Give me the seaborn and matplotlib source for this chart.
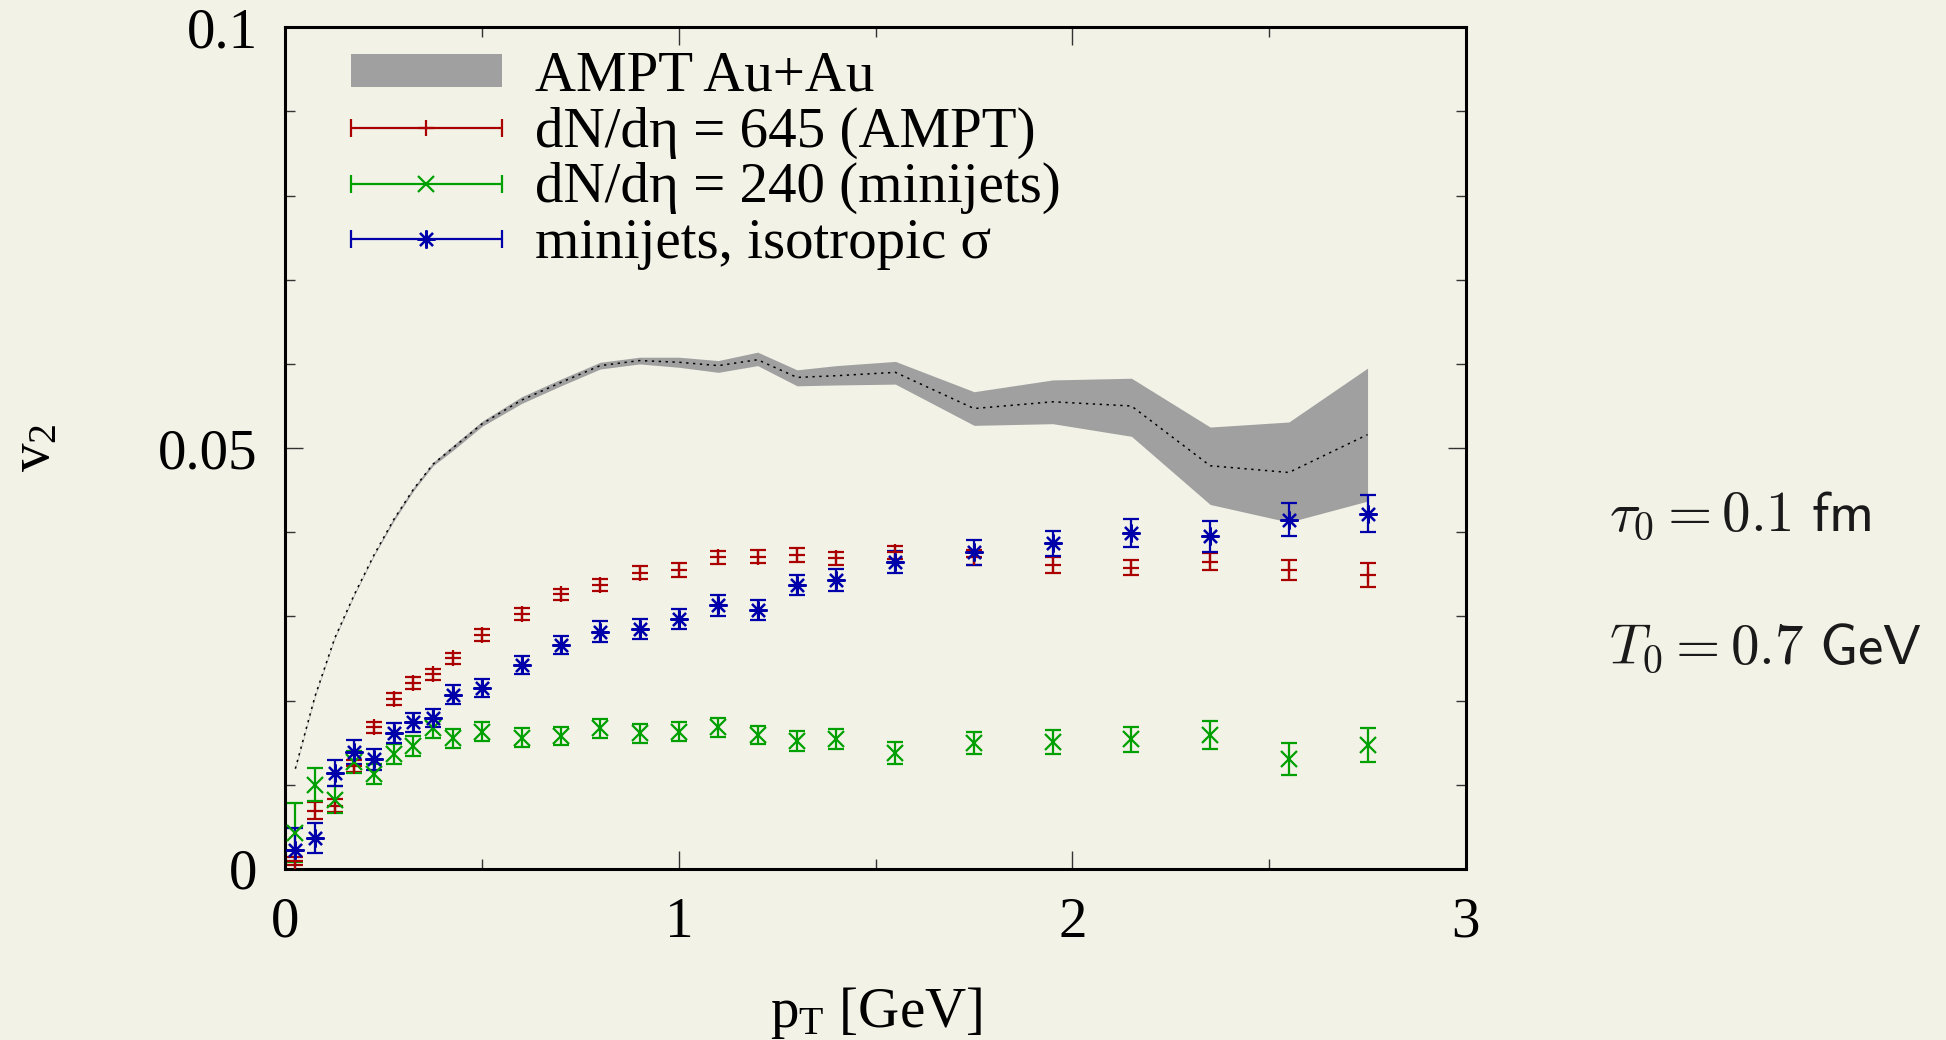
import numpy as np
import pandas as pd
import matplotlib
matplotlib.use("Agg")
import matplotlib.pyplot as plt
import seaborn as sns
from matplotlib.lines import Line2D
from matplotlib.patches import Patch
from matplotlib.legend_handler import HandlerLine2D
from matplotlib.ticker import MultipleLocator, FormatStrFormatter

# ---- data ----
pt = [0.025, 0.075, 0.125, 0.175, 0.225, 0.275, 0.325, 0.375, 0.425,
      0.5, 0.6, 0.7, 0.8, 0.9, 1.0, 1.1, 1.2, 1.3, 1.4,
      1.55, 1.75, 1.95, 2.15, 2.35, 2.55, 2.75]

# AMPT Au+Au band (centre + edges)
ampt_mid = [0.0119, 0.0205, 0.0274, 0.0326, 0.0373, 0.0415, 0.0451, 0.0481, 0.0500,
            0.0529, 0.0557, 0.0578, 0.0598, 0.0604, 0.0602, 0.0598, 0.0605, 0.0584, 0.0586,
            0.0590, 0.0547, 0.0555, 0.0550, 0.0479, 0.0471, 0.0516]
ampt_hi = [0.0120, 0.0206, 0.0275, 0.0327, 0.0374, 0.0417, 0.0453, 0.0483, 0.0503,
           0.0532, 0.0561, 0.0582, 0.0602, 0.0608, 0.0608, 0.0604, 0.0614, 0.0593, 0.0598,
           0.0603, 0.0567, 0.0581, 0.0583, 0.0525, 0.0531, 0.0595]
ampt_lo = [0.0118, 0.0204, 0.0273, 0.0325, 0.0372, 0.0413, 0.0449, 0.0479, 0.0497,
           0.0526, 0.0553, 0.0574, 0.0594, 0.0600, 0.0596, 0.0590, 0.0598, 0.0574, 0.0575,
           0.0576, 0.0527, 0.0529, 0.0514, 0.0433, 0.0412, 0.0437]

# dN/deta = 645 (AMPT)
v2_645 = [0.0009, 0.0069, 0.0075, 0.0122, 0.0168, 0.0202, 0.0221, 0.0231, 0.0250,
          0.0278, 0.0303, 0.0326, 0.0337, 0.0352, 0.0355, 0.0370, 0.0371, 0.0373, 0.0369,
          0.0376, 0.0370, 0.0361, 0.0358, 0.0365, 0.0355, 0.0349]
err_645 = [0.0005, 0.0010, 0.0008, 0.0007, 0.0007, 0.0007, 0.0007, 0.0007, 0.0007,
           0.0007, 0.0007, 0.0007, 0.0007, 0.0008, 0.0008, 0.0008, 0.0008, 0.0008, 0.0008,
           0.0008, 0.0009, 0.0009, 0.0009, 0.0010, 0.0012, 0.0014]

# dN/deta = 240 (minijets)
v2_240 = [0.0043, 0.0100, 0.0082, 0.0127, 0.0113, 0.0136, 0.0146, 0.0167, 0.0155,
          0.0163, 0.0156, 0.0158, 0.0167, 0.0161, 0.0163, 0.0168, 0.0159, 0.0152, 0.0154,
          0.0138, 0.0150, 0.0151, 0.0154, 0.0159, 0.0131, 0.0147]
err_240 = [0.0035, 0.0020, 0.0016, 0.0013, 0.0012, 0.0012, 0.0012, 0.0011, 0.0011,
           0.0011, 0.0011, 0.0011, 0.0011, 0.0011, 0.0011, 0.0011, 0.0011, 0.0012, 0.0012,
           0.0013, 0.0013, 0.0014, 0.0015, 0.0017, 0.0019, 0.0020]

# minijets, isotropic sigma
v2_iso = [0.0022, 0.0037, 0.0114, 0.0139, 0.0130, 0.0161, 0.0174, 0.0179, 0.0207,
          0.0215, 0.0242, 0.0266, 0.0282, 0.0285, 0.0297, 0.0313, 0.0308, 0.0337, 0.0343,
          0.0365, 0.0376, 0.0387, 0.0399, 0.0395, 0.0415, 0.0422]
err_iso = [0.0026, 0.0018, 0.0015, 0.0014, 0.0012, 0.0012, 0.0011, 0.0011, 0.0011,
           0.0011, 0.0011, 0.0011, 0.0012, 0.0012, 0.0012, 0.0012, 0.0012, 0.0012, 0.0013,
           0.0013, 0.0015, 0.0015, 0.0017, 0.0018, 0.0020, 0.0022]

labels = ["AMPT Au+Au", "dN/dη = 645 (AMPT)", "dN/dη = 240 (minijets)", "minijets, isotropic σ"]

# ---- style ----
BG = "#f2f2e7"
BAND = "#a0a0a0"
RED, GREEN, BLUE = "#aa0000", "#00a000", "#0000aa"
STAR = (8, 2, 0)

sns.set_theme(style="ticks")
plt.rcParams["font.family"] = ["Liberation Serif", "DejaVu Serif"]
plt.rcParams["text.color"] = "black"
plt.rcParams["mathtext.fontset"] = "custom"
plt.rcParams["mathtext.rm"] = "Liberation Serif"
plt.rcParams["mathtext.it"] = "Liberation Serif:italic"

fig = plt.figure(figsize=(19.46, 10.40), dpi=100, facecolor=BG)
ax = fig.add_axes([0.1467, 0.1646, 0.6066, 0.8091])
ax.set_facecolor(BG)

# band + dotted centre line
ax.fill_between(pt, ampt_lo, ampt_hi, color=BAND, lw=0, zorder=1)
df_band = pd.DataFrame({"pt": pt, "v2": ampt_mid})
sns.lineplot(data=df_band, x="pt", y="v2", ax=ax, color="black", lw=1.1,
             linestyle=(0, (1.5, 3)), legend=False, zorder=2)

series = [(v2_645, err_645, RED, "+", 11),
          (v2_240, err_240, GREEN, "x", 11),
          (v2_iso, err_iso, BLUE, STAR, 13)]
for y, e, col, mk, ms in series:
    ax.errorbar(pt, y, yerr=e, fmt="", marker=mk, ls="none", color=col, ecolor=col,
                elinewidth=1.6, capsize=6, capthick=1.6, markersize=ms, mew=1.6, zorder=3)

ax.set_xlim(0, 3)
ax.set_ylim(0, 0.1)
ax.xaxis.set_major_locator(MultipleLocator(1))
ax.xaxis.set_minor_locator(MultipleLocator(0.5))
ax.yaxis.set_major_locator(MultipleLocator(0.05))
ax.yaxis.set_minor_locator(MultipleLocator(0.01))
ax.xaxis.set_major_formatter(FormatStrFormatter("%g"))
ax.yaxis.set_major_formatter(FormatStrFormatter("%g"))
ax.tick_params(which="both", direction="in", top=True, right=True, color="#333333")
ax.tick_params(which="major", length=13, width=1.0, labelsize=41, pad=20, labelcolor="black")
ax.tick_params(which="minor", length=7, width=1.0)
for s in ax.spines.values():
    s.set_linewidth(2.2)
    s.set_color("black")

ax.set_xlabel(r"$\mathrm{p_T}$ [GeV]", fontsize=41, color="black")
ax.xaxis.set_label_coords(0.5, -0.138)
ax.set_ylabel(r"$\mathrm{v_2}$", fontsize=41, color="black")
ax.yaxis.set_label_coords(-0.19, 0.5)

# legend in gnuplot style: line with end caps + marker in the middle
hmap = {}
handles = [Patch(facecolor=BAND, edgecolor="none")]
for _, _, col, mk, ms in series:
    cap = Line2D([], [], color=col, lw=1.6, marker="|", markersize=13, mew=1.6)
    mid = Line2D([], [], color=col, ls="none", marker=mk, markersize=ms, mew=1.6)
    hmap[cap] = HandlerLine2D(numpoints=2, marker_pad=0)
    hmap[mid] = HandlerLine2D(numpoints=1)
    handles.append((cap, mid))

ax.legend(handles, labels, loc="upper left", bbox_to_anchor=(0.0555, 0.972),
          frameon=False, fontsize=41, handlelength=2.65, handletextpad=0.58,
          handleheight=0.52, labelspacing=0.06, borderpad=0, borderaxespad=0,
          handler_map=hmap)

# parameters on the right
fig.text(0.827, 0.490, r"$\tau_0 = 0.1\ \mathsf{fm}$", fontsize=41,
         math_fontfamily="cm", color="#1a1a1a", va="baseline", ha="left")
fig.text(0.827, 0.3625, r"$T_0 = 0.7\ \mathsf{GeV}$", fontsize=41,
         math_fontfamily="cm", color="#1a1a1a", va="baseline", ha="left")

fig.savefig("out.png", dpi=100, facecolor=BG)
